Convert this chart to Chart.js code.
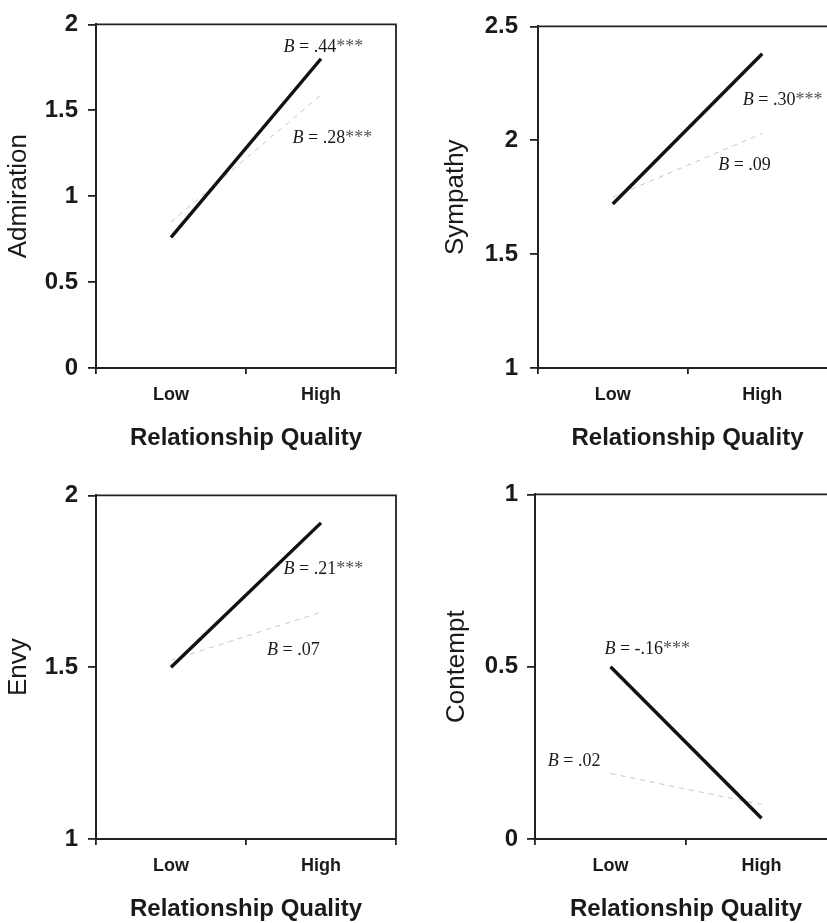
<!DOCTYPE html>
<html>
<head>
<meta charset="utf-8">
<script src="https://cdn.jsdelivr.net/npm/chart.js@4.4.1/dist/chart.umd.min.js"></script>
<style>
  html, body { margin: 0; padding: 0; background: #fff; overflow: hidden; width: 827px; height: 923px; }
  canvas { position: absolute; }
</style>
</head>
<body>
<canvas id="admiration" width="410" height="460" style="left:0;top:0"></canvas>
<canvas id="sympathy" width="430" height="460" style="left:420px;top:0"></canvas>
<canvas id="envy" width="410" height="460" style="left:0;top:471px"></canvas>
<canvas id="contempt" width="430" height="460" style="left:420px;top:471px"></canvas>
<script>
// --- Data ---
const categories = ['Low', 'High'];

// solid = first group, dashed = comparison group
const admirationSolid = [0.76, 1.80];
const admirationDashed = [0.85, 1.59];
const admirationTicks = [0, 0.5, 1, 1.5, 2];

const sympathySolid = [1.72, 2.38];
const sympathyDashed = [1.75, 2.03];
const sympathyTicks = [1, 1.5, 2, 2.5];

const envySolid = [1.50, 1.92];
const envyDashed = [1.52, 1.66];
const envyTicks = [1, 1.5, 2];

const contemptSolid = [0.50, 0.06];
const contemptDashed = [0.19, 0.10];
const contemptTicks = [0, 0.5, 1];

// slope labels, anchored in axis units (category index, y value)
const admirationNotes = [
    { coef: '.44', stars: '***', x: 0.75, y: 1.84 },
    { coef: '.28', stars: '***', x: 0.81, y: 1.31 }
];
const sympathyNotes = [
    { coef: '.30', stars: '***', x: 0.87, y: 2.157 },
    { coef: '.09', stars: '', x: 0.705, y: 1.87 }
];
const envyNotes = [
    { coef: '.21', stars: '***', x: 0.75, y: 1.772 },
    { coef: '.07', stars: '', x: 0.64, y: 1.536 }
];
const contemptNotes = [
    { coef: '-.16', stars: '***', x: -0.04, y: 0.536 },
    { coef: '.02', stars: '', x: -0.415, y: 0.211 }
];

const sans = '"Liberation Sans", Arial, Helvetica, sans-serif';
const serif = '"Liberation Serif", "Times New Roman", serif';
const ink = '#1a1a1a';

// top + right edge of the plot box
const framePlugin = {
    id: 'frame',
    beforeDatasetsDraw(chart) {
        const { ctx, chartArea: a } = chart;
        ctx.save();
        ctx.strokeStyle = '#222';
        ctx.lineWidth = 1.8;
        ctx.beginPath();
        ctx.moveTo(a.left, a.top);
        ctx.lineTo(a.right, a.top);
        ctx.lineTo(a.right, a.bottom);
        ctx.stroke();
        ctx.restore();
    }
};

function notesPlugin(notes) {
    return {
        id: 'notes',
        afterDatasetsDraw(chart) {
            const { ctx } = chart;
            const xs = chart.scales.x, ys = chart.scales.y;
            ctx.save();
            ctx.textBaseline = 'alphabetic';
            ctx.textAlign = 'left';
            notes.forEach(n => {
                let px = xs.getPixelForValue(n.x);
                const py = ys.getPixelForValue(n.y);
                ctx.fillStyle = ink;
                ctx.font = 'italic 18px ' + serif;
                ctx.fillText('B', px, py);
                px += ctx.measureText('B').width;
                ctx.font = '18px ' + serif;
                const rest = ' = ' + n.coef;
                ctx.fillText(rest, px, py);
                px += ctx.measureText(rest).width;
                if (n.stars) {
                    ctx.fillStyle = '#555';
                    ctx.fillText(n.stars, px, py);
                }
            });
            ctx.restore();
        }
    };
}

function makePanel(p) {
    const ctx = document.getElementById(p.id).getContext('2d');
    return new Chart(ctx, {
        type: 'line',
        data: {
            labels: categories,
            datasets: [
                { data: p.solid, borderColor: '#111', borderWidth: 3.4, pointRadius: 0, tension: 0 },
                { data: p.dashed, borderColor: '#c6c6c6', borderWidth: 1, borderDash: [5, 5], pointRadius: 0, tension: 0 }
            ]
        },
        options: {
            responsive: false,
            animation: false,
            events: [],
            layout: { padding: { top: p.padTop, right: p.padRight, left: 0, bottom: 0 } },
            plugins: {
                legend: { display: false },
                tooltip: { enabled: false }
            },
            scales: {
                x: {
                    type: 'category',
                    offset: true,
                    grid: { offset: true, drawOnChartArea: false, tickLength: 6, color: '#222', lineWidth: 1.8 },
                    border: { color: '#222', width: 2 },
                    ticks: { color: ink, padding: 10, font: { family: sans, size: 18, weight: 'bold' } },
                    title: {
                        display: true, text: 'Relationship Quality', color: ink,
                        font: { family: sans, size: 24, weight: 'bold' }, padding: { top: 0, bottom: 7 }
                    },
                    afterFit: s => { s.height = 92; }
                },
                y: {
                    min: p.ticks[0],
                    max: p.ticks[p.ticks.length - 1],
                    afterBuildTicks: s => { s.ticks = p.ticks.map(v => ({ value: v })); },
                    grid: { drawOnChartArea: false, tickLength: 8, color: '#222', lineWidth: 1.8 },
                    border: { color: '#222', width: 2 },
                    ticks: {
                        color: ink, padding: p.tickPad,
                        font: { family: sans, size: 24, weight: 'bold' },
                        callback: v => String(v)
                    },
                    title: {
                        display: true, text: p.title, color: ink,
                        font: { family: sans, size: 26 }, padding: { top: p.titlePad, bottom: 0 }
                    },
                    afterFit: s => { s.width = p.axisWidth; }
                }
            }
        },
        plugins: [framePlugin, notesPlugin(p.notes)]
    });
}

makePanel({ id: 'admiration', title: 'Admiration', solid: admirationSolid, dashed: admirationDashed,
    ticks: admirationTicks, notes: admirationNotes, axisWidth: 96, padTop: 16, padRight: 14, tickPad: 10, titlePad: 3 });
makePanel({ id: 'sympathy', title: 'Sympathy', solid: sympathySolid, dashed: sympathyDashed,
    ticks: sympathyTicks, notes: sympathyNotes, axisWidth: 118, padTop: 18, padRight: 13, tickPad: 12, titlePad: 20 });
makePanel({ id: 'envy', title: 'Envy', solid: envySolid, dashed: envyDashed,
    ticks: envyTicks, notes: envyNotes, axisWidth: 96, padTop: 17, padRight: 14, tickPad: 10, titlePad: 3 });
makePanel({ id: 'contempt', title: 'Contempt', solid: contemptSolid, dashed: contemptDashed,
    ticks: contemptTicks, notes: contemptNotes, axisWidth: 115, padTop: 17, padRight: 13, tickPad: 9, titlePad: 21 });
</script>
</body>
</html>
